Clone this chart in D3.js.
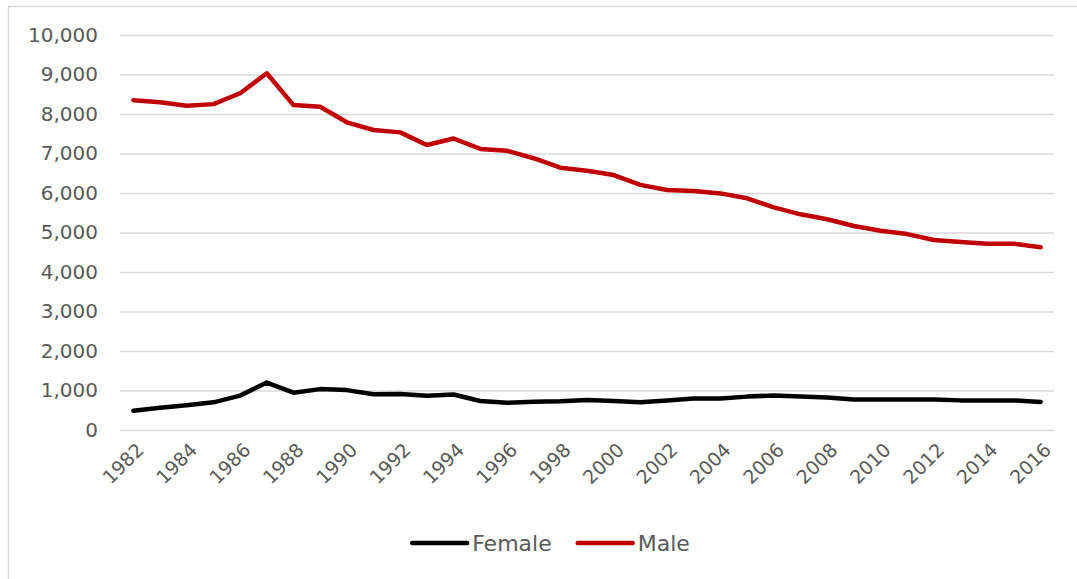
<!DOCTYPE html>
<html>
<head>
<meta charset="utf-8">
<script src="https://cdn.jsdelivr.net/npm/d3@7"></script>
<style>
  body { margin: 0; background: #fff; }
  text { font-family: "DejaVu Sans", sans-serif; fill: #595959; }
</style>
</head>
<body>
<script>
const years = d3.range(1982, 2017)

const female = [
  490, 565, 625, 700, 870, 1200, 945, 1035, 1010, 905,
  910, 870, 900, 735, 690, 715, 725, 760, 735, 700,
  745, 795, 800, 845, 875, 845, 825, 775, 775, 775,
  775, 750, 750, 750, 710
]

const male = [
  8350, 8295, 8210, 8250, 8525, 9030, 8225, 8185, 7790, 7595,
  7535, 7215, 7380, 7115, 7070, 6880, 6640, 6565, 6455, 6205,
  6075, 6050, 5990, 5865, 5635, 5460, 5335, 5165, 5045, 4960,
  4810, 4760, 4715, 4715, 4625
]

const yTicks = d3.range(0, 10001, 1000)
const xLabels = years.filter(y => y % 2 === 0)

const series = [
  { name: 'Female', values: female, color: '#000000' },
  { name: 'Male', values: male, color: '#c00000' }
]

const width = 1077
const height = 579
const margin = { left: 120, right: 23, top: 35, bottom: 149 }
const font = '"DejaVu Sans", sans-serif'

const svg = d3.select('body')
  .append('svg')
  .attr('width', width)
  .attr('height', height)

// chart area border
svg.append('rect')
  .attr('x', 8.5)
  .attr('y', 6.5)
  .attr('width', width + 20)
  .attr('height', height + 20)
  .attr('fill', 'none')
  .attr('stroke', '#d9d9d9')
  .attr('stroke-width', 1.5)

const xScale = d3.scalePoint()
  .domain(years)
  .range([margin.left, width - margin.right])
  .padding(0.5)

const yScale = d3.scaleLinear()
  .domain([0, 10000])
  .range([height - margin.bottom, margin.top])

// grid + y labels
const yAxis = d3.axisLeft(yScale)
  .tickValues(yTicks)
  .tickFormat(d3.format(','))
  .tickSize(-(width - margin.left - margin.right))
  .tickPadding(22)

svg.append('g')
  .attr('transform', `translate(${margin.left},0)`)
  .call(yAxis)
  .call(g => g.select('.domain').remove())
  .call(g => g.selectAll('.tick line').attr('stroke', '#d9d9d9').attr('stroke-width', 1.5))
  .call(g => g.selectAll('.tick text')
    .attr('font-size', 20)
    .style('font-family', font)
    .attr('fill', '#595959'))

// x labels
const xAxis = d3.axisBottom(xScale)
  .tickValues(xLabels)
  .tickSize(0)

svg.append('g')
  .attr('transform', `translate(0,${height - margin.bottom})`)
  .call(xAxis)
  .call(g => g.select('.domain').remove())
  .call(g => g.selectAll('.tick text')
    .attr('font-size', 19)
    .style('font-family', font)
    .attr('fill', '#595959')
    .attr('text-anchor', 'end')
    .attr('dy', 0)
    .attr('transform', 'translate(9,19) rotate(-45)'))

// lines
const line = d3.line()
  .x((d, i) => xScale(years[i]))
  .y(d => yScale(d))

svg.append('g')
  .selectAll('path')
  .data(series)
  .join('path')
  .attr('d', d => line(d.values))
  .attr('fill', 'none')
  .attr('stroke', d => d.color)
  .attr('stroke-width', 4.5)
  .attr('stroke-linejoin', 'round')
  .attr('stroke-linecap', 'round')

// legend
const legend = svg.append('g')
let lx = 0
series.forEach(s => {
  const item = legend.append('g').attr('transform', `translate(${lx},0)`)
  item.append('line')
    .attr('x1', 0).attr('x2', 55)
    .attr('stroke', s.color)
    .attr('stroke-width', 4.5)
    .attr('stroke-linecap', 'round')
  const t = item.append('text')
    .attr('x', 60)
    .attr('dy', '0.35em')
    .attr('font-size', 22)
    .text(s.name)
  lx += 60 + t.node().getComputedTextLength() + 26
})
const legendWidth = lx - 26
legend.attr('transform', `translate(${551 - legendWidth / 2},543)`)
</script>
</body>
</html>
